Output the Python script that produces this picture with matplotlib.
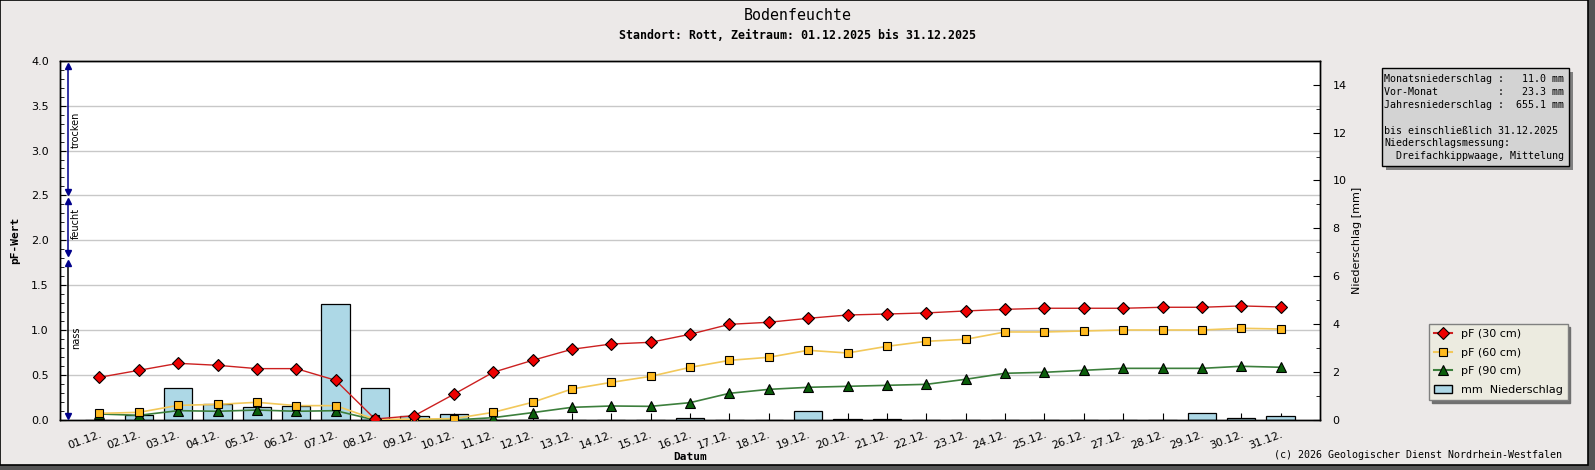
import numpy as np
import matplotlib

matplotlib.use('Agg')
import matplotlib.pyplot as plt
import matplotlib.transforms as mtransforms
from matplotlib.patches import Rectangle, Patch
from matplotlib.lines import Line2D

# ── Daten (Dezember 2025, Standort Rott) ──
days = np.arange(1, 32)
day_labels = [f"{d:02d}.12." for d in days]

pf30 = [0.475, 0.553, 0.631, 0.609, 0.572, 0.572, 0.442, 0.011, 0.048, 0.286,
        0.531, 0.664, 0.787, 0.846, 0.865, 0.954, 1.065, 1.088, 1.132, 1.169,
        1.180, 1.192, 1.214, 1.232, 1.244, 1.244, 1.244, 1.255, 1.255, 1.270, 1.258]
pf60 = [0.074, 0.085, 0.163, 0.174, 0.197, 0.160, 0.160, 0.007, 0.010, 0.015,
        0.085, 0.197, 0.345, 0.419, 0.486, 0.586, 0.664, 0.698, 0.776, 0.746,
        0.820, 0.876, 0.898, 0.980, 0.980, 0.991, 1.002, 1.002, 1.002, 1.021, 1.013]
pf90 = [0.067, 0.052, 0.104, 0.097, 0.111, 0.097, 0.104, 0.000, 0.000, 0.000,
        0.026, 0.082, 0.141, 0.156, 0.152, 0.193, 0.297, 0.341, 0.364, 0.375,
        0.386, 0.397, 0.453, 0.520, 0.531, 0.553, 0.575, 0.575, 0.575, 0.598, 0.587]
rain = [0.00, 0.21, 1.32, 0.65, 0.53, 0.60, 4.83, 1.32, 0.17, 0.24,
        0.00, 0.00, 0.00, 0.00, 0.00, 0.08, 0.00, 0.00, 0.36, 0.04,
        0.04, 0.00, 0.00, 0.00, 0.00, 0.00, 0.00, 0.00, 0.28, 0.08, 0.17]

# Feuchtebereiche links (Name, unten, oben, Linienfarbe)
zone_names = ['trocken', 'feucht', 'nass']
zone_lo = [2.54, 1.86, 0.045]
zone_hi = [3.94, 2.44, 1.745]
zone_text_y = [3.23, 2.19, 0.92]
zone_line_col = ['#00008b', '#00008b', 'black']

info_text = ("Monatsniederschlag :   11.0 mm\n"
             "Vor-Monat          :   23.3 mm\n"
             "Jahresniederschlag :  655.1 mm\n"
             "\n"
             "bis einschließlich 31.12.2025\n"
             "Niederschlagsmessung:\n"
             "  Dreifachkippwaage, Mittelung")

W, H = 1595, 470
BG = '#ece9e8'
MONO = 'DejaVu Sans Mono'

fig = plt.figure(figsize=(W / 100, H / 100), dpi=100, facecolor='#555555')
# Rahmen mit Schatten rechts/unten
fig.patches.append(Rectangle((0, 5 / H), 1588 / W, 1 - 5 / H, transform=fig.transFigure,
                             facecolor=BG, edgecolor='black', lw=1.2, zorder=-10))

left, right, top, bottom = 60 / W, 1320 / W, 1 - 60.7 / H, 1 - 420 / H
ax2 = fig.add_axes([left, bottom, right - left, top - bottom])
ax = ax2.twinx()
ax.yaxis.tick_left()
ax.yaxis.set_label_position('left')
ax2.yaxis.tick_right()
ax2.yaxis.set_label_position('right')
ax.set_zorder(ax2.get_zorder() + 1)
ax.patch.set_visible(False)
ax2.set_facecolor('white')

ax2.set_xlim(0, 32)
ax.set_ylim(0, 4.0)
ax2.set_ylim(0, 15)

# Gitterlinien (pF-Skala) hinter den Balken
grid_tr = mtransforms.blended_transform_factory(ax2.transAxes, ax.transData)
for g in np.arange(0.5, 4.01, 0.5):
    ax2.plot([0, 1], [g, g], transform=grid_tr, color='#c8c8c8', lw=1, zorder=0)

# Niederschlag
ax2.bar(days, rain, width=0.72, color='#add8e6', edgecolor='black', lw=0.9, zorder=2)

# pF-Kurven
ax.plot(days, pf90, '-', color='#3c7f3c', lw=1.2, marker='^', ms=6.5,
        mfc='#0b5e0b', mec='black', mew=0.8, zorder=3)
ax.plot(days, pf60, '-', color='#f2c85a', lw=1.2, marker='s', ms=5.5,
        mfc='#ffba1e', mec='black', mew=0.8, zorder=4)
ax.plot(days, pf30, '-', color='#cc2020', lw=1.0, marker='D', ms=6,
        mfc='#ee0000', mec='black', mew=0.8, zorder=5)

# Bereichspfeile
zx = 0.21
for name, lo, hi, ty, col in zip(zone_names, zone_lo, zone_hi, zone_text_y, zone_line_col):
    ax.plot([zx, zx], [lo, hi], color=col, lw=1.1, clip_on=False, zorder=6)
    ax.plot(zx, hi, marker='^', color='#00008b', ms=5, clip_on=False, zorder=7)
    ax.plot(zx, lo, marker='v', color='#00008b', ms=5, clip_on=False, zorder=7)
    ax.text(zx + 0.2, ty, name, rotation=90, fontsize=7, ha='center', va='center')

# Achsen
ax2.set_xticks(days)
ax2.set_xticklabels(day_labels, rotation=20, ha='right', rotation_mode='anchor', fontsize=8)
ax2.tick_params(axis='x', direction='in', length=5, pad=7)
ax.set_yticks(np.arange(0, 4.01, 0.5))
ax.set_yticklabels([f"{v:.1f}" for v in np.arange(0, 4.01, 0.5)], fontsize=8)
ax.set_yticks(np.arange(0, 4.01, 0.1), minor=True)
ax.tick_params(axis='y', which='major', direction='in', length=4, pad=8)
ax.tick_params(axis='y', which='minor', direction='in', length=3)
ax2.set_yticks(np.arange(0, 15, 2))
ax2.set_yticks(np.arange(1, 15, 2), minor=True)
ax2.tick_params(axis='y', which='major', direction='in', length=5, pad=9, labelsize=8)
ax2.tick_params(axis='y', which='minor', direction='in', length=3)
for a in (ax, ax2):
    for s in a.spines.values():
        s.set_color('black')
        s.set_linewidth(1)

# Beschriftungen
fig.text(0.5, 1 - 15 / H, 'Bodenfeuchte', family=MONO, fontsize=10.7,
         ha='center', va='center')
fig.text(0.5, 1 - 35.5 / H, 'Standort: Rott, Zeitraum: 01.12.2025 bis 31.12.2025',
         family=MONO, fontsize=8.4, weight='bold', ha='center', va='center')
fig.text(15 / W, (top + bottom) / 2, 'pF-Wert', family=MONO, fontsize=8, weight='bold',
         rotation=90, ha='center', va='center')
fig.text(1357 / W, 1 - 240 / H, 'Niederschlag [mm]', fontsize=8, rotation=90,
         ha='center', va='center')
fig.text(690 / W, 1 - 457 / H, 'Datum', family=MONO, fontsize=8, weight='bold',
         ha='center', va='center')
fig.text(1562 / W, 1 - 455 / H, '(c) 2026 Geologischer Dienst Nordrhein-Westfalen',
         family=MONO, fontsize=7.2, ha='right', va='center')

# Info-Kasten
bx0, bx1, by0, by1 = 1382, 1569, 68, 166
fig.patches.append(Rectangle(((bx0 + 4) / W, 1 - (by1 + 4) / H), (bx1 - bx0) / W, (by1 - by0) / H,
                             transform=fig.transFigure, facecolor='#808080', edgecolor='none'))
fig.patches.append(Rectangle((bx0 / W, 1 - by1 / H), (bx1 - bx0) / W, (by1 - by0) / H,
                             transform=fig.transFigure, facecolor='#d3d3d3', edgecolor='black', lw=1))
fig.text((bx0 + 2) / W, 1 - 74 / H, info_text, family=MONO, fontsize=7.2,
         ha='left', va='top', linespacing=1.36)

# Legende
handles = [
    Line2D([], [], color='#cc2020', marker='D', ms=6, mfc='#ee0000', mec='black', mew=0.8),
    Line2D([], [], color='#f2c85a', marker='s', ms=5.5, mfc='#ffba1e', mec='black', mew=0.8),
    Line2D([], [], color='#3c7f3c', marker='^', ms=6.5, mfc='#0b5e0b', mec='black', mew=0.8),
    Patch(facecolor='#add8e6', edgecolor='black'),
]
labels = ['pF (30 cm)', 'pF (60 cm)', 'pF (90 cm)', 'mm  Niederschlag']
leg = fig.legend(handles, labels, loc='upper left', bbox_to_anchor=(1429 / W, 1 - 324 / H),
                 borderaxespad=0, fontsize=8, frameon=True, fancybox=False,
                 shadow={'color': '#707070', 'alpha': 1}, handlelength=1.6,
                 labelspacing=0.78, borderpad=0.45, handletextpad=0.8)
leg.get_frame().set_facecolor('#ecebe0')
leg.get_frame().set_edgecolor('#808080')
leg.get_frame().set_alpha(1)

plt.savefig('out.png', dpi=100, facecolor=fig.get_facecolor())
plt.close()
